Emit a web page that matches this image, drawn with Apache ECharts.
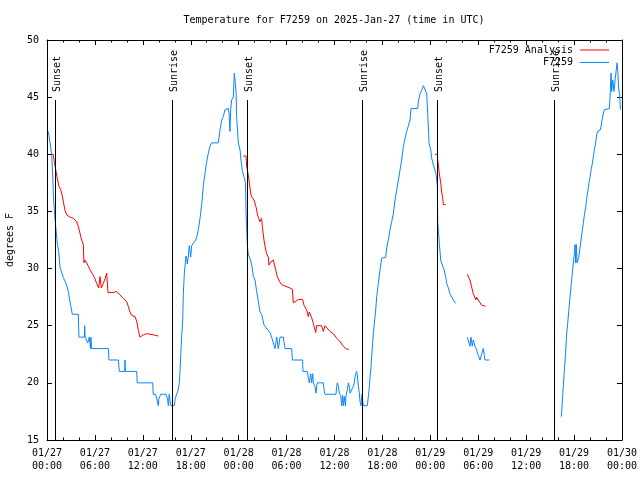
<!DOCTYPE html>
<html>
<head>
<meta charset="utf-8">
<script src="https://cdn.jsdelivr.net/npm/echarts@6/dist/echarts.min.js"></script>
<style>
html,body{margin:0;padding:0;background:#fff;}
#chart{width:640px;height:480px;}
</style>
</head>
<body>
<div id="chart"></div>
<script>
// ---- data (hours since 2025-01-27 00:00 UTC) ----
const tickDates = ['01/27','01/27','01/27','01/27','01/28','01/28','01/28','01/28','01/29','01/29','01/29','01/29','01/30'];
const tickTimes = ['00:00','06:00','12:00','18:00','00:00','06:00','12:00','18:00','00:00','06:00','12:00','18:00','00:00'];

const eventHours = [0.96, 15.61, 25.0, 39.49, 48.88, 63.53];
const eventNames = ['Sunset','Sunrise','Sunset','Sunrise','Sunset','Sunrise'];

const obsHours = [
0.17,0.32,0.38,0.52,0.58,0.66,0.72,0.80,0.88,0.96,1.13,1.29,1.46,1.63,1.84,2.05,2.38,2.67,2.96,3.17,3.92,4.0,4.67,4.72,4.78,5.0,5.1,5.3,5.45,5.5,5.59,7.68,7.76,8.93,9.06,9.72,9.77,9.81,11.23,11.3,13.24,13.3,13.6,13.75,13.94,14.0,14.24,14.9,15.1,15.19,15.3,15.4,15.5,15.94,16.05,16.24,16.4,16.57,16.65,16.74,16.86,16.99,17.07,17.2,17.36,17.4,17.49,17.57,17.7,17.82,17.99,18.11,18.32,18.53,18.74,18.95,19.16,19.37,19.58,19.78,19.99,20.2,20.41,20.62,21.45,21.66,21.87,22.08,22.29,22.5,22.71,22.79,22.91,23.0,23.12,23.33,23.46,23.5,23.58,23.67,23.75,23.83,23.96,24.17,24.29,24.46,24.67,24.85,24.92,25.0,25.09,25.21,25.5,25.67,25.84,26.05,26.25,26.5,26.67,26.88,27.17,27.42,27.92,28.13,28.34,28.55,28.76,28.97,29.18,29.59,29.8,30.64,30.72,32.01,32.05,32.6,32.72,32.85,33.02,33.14,33.27,33.35,33.56,33.69,33.77,33.85,34.6,34.69,34.81,36.19,36.27,36.36,36.48,36.61,36.78,36.9,37.02,37.11,37.23,37.36,37.44,37.61,37.73,37.86,37.94,38.15,38.36,38.48,38.61,38.77,38.86,38.98,39.11,39.19,39.32,39.44,39.53,39.61,40.11,40.24,40.37,40.44,40.57,40.65,40.78,40.86,40.99,41.16,41.28,41.49,41.7,41.91,42.12,42.41,42.53,42.74,42.95,43.16,43.37,43.58,43.79,44.0,44.2,44.41,44.62,44.83,45.04,45.25,45.46,45.58,46.42,46.5,46.71,46.92,47.13,47.38,47.55,47.67,47.84,48.05,48.17,48.38,48.71,48.88,48.93,49.0,49.13,49.3,49.55,49.72,49.92,50.05,50.26,50.46,50.67,50.88,51.17,
51.9,
52.63,52.88,52.96,53.09,53.25,53.38,53.59,53.8,54.0,54.22,54.42,54.63,54.76,54.84,55.38,
60.0,
64.41,64.53,64.66,64.78,64.95,65.07,65.2,65.36,65.49,65.61,65.74,65.91,66.03,66.12,66.2,66.28,66.37,66.45,66.58,66.74,66.87,67.04,67.16,67.29,67.46,67.58,67.71,67.87,68.0,68.12,68.29,68.41,68.54,68.71,68.83,68.96,69.25,69.37,69.5,69.67,69.79,69.92,70.42,70.5,70.63,70.71,70.84,71.0,71.13,71.25,71.38,71.46,71.59,71.71,71.8
];
const obsTemps = [
42,42,41,41,40,40,38,36.5,35.5,34.7,33.4,32.2,31.5,30.1,30,29.2,28.7,28,26.8,26,26,24,24,25,24,24,23.5,24,23,24,23,23,22,22,21,21,22,21,21,20,20,19,19,18.6,18,18.6,19,19,18.6,18,19,19,18,18,18.6,19,19.3,20,21,22.3,24,25.4,27.8,29.6,30.8,31.1,30.9,30.4,31.1,32,31,32,32.2,32.4,32.7,33.4,34.4,35.6,37.3,38.3,39.35,40.1,40.7,41,41,42.1,43,43.3,43.9,44,44,43.6,42,43.9,44.75,45,47.1,47,46.2,45.5,43.3,42.4,41,40.4,39.5,38.6,38,37.5,35,33.5,32,31.2,30.75,30.2,29.3,29,28,27,26.2,26,25.06,25,24.4,24,23.5,23,24,23,24,24,23,23,22,22,21,21,20.4,20,20.8,20,20.8,20,19.7,19.1,19.7,20,20,19.4,19,19,19.7,20,19.7,19.1,18.9,18,18.9,18,18.8,18,18.9,19.4,20,19.7,19.1,19.1,19.7,20,20.7,21,20.7,19.7,19.1,18.4,18,19,18.4,18,18,18.8,19.7,20.5,21.3,22.3,23.5,24.3,25.2,26.4,27.5,28.7,29.9,30.9,31,31,31.8,32.5,33.4,34.1,34.8,36,36.9,37.75,38.6,39.5,40.67,41.4,42,42.1,43,44,44,44.6,45.3,45.6,46,46,45.3,43.6,40.96,40.4,39.65,39.06,38.3,37.2,34,33.4,32.2,30.75,30.2,29.9,29.3,28.7,28.3,27.8,27.5,27.25,26.96,
null,
24,24,23.2,24,23.2,23.75,23.2,22.9,22.4,22,22,23,22.4,22,22,
null,
17.04,18.5,19.7,21.1,22.7,24.3,25.2,26.5,27.5,28.4,29.3,30.5,31.3,32.1,30.5,32.1,30.5,30.5,31,31.8,32.5,33.4,34,34.7,35.4,36.15,36.7,37.5,38,38.6,39.2,39.8,40.4,41,41.7,42,42.1,42.4,43,43.6,43.9,44,44,45,47.1,45.5,46.5,45.5,46.5,47.2,48,47.4,45.6,45.3,43.9
];

const anaHours = [
0.50,0.79,0.92,1.13,1.29,1.5,1.71,1.84,2.05,2.25,2.46,2.88,3.3,3.71,3.92,4.13,4.34,4.55,4.63,4.76,4.97,5.18,5.38,5.8,6.01,6.22,6.47,6.64,6.8,7.05,7.26,7.47,7.64,8.31,8.72,9.14,9.56,9.98,10.18,10.39,10.6,11.02,11.23,11.44,11.64,12.06,12.48,13.31,13.94,
19.0,
24.58,24.92,25.0,25.13,25.34,25.5,25.63,25.92,26.17,26.34,26.5,26.67,26.88,26.96,27.17,27.34,27.5,27.71,27.8,28.05,28.34,28.55,28.63,28.84,29.09,29.38,29.68,30.43,30.72,30.85,31.06,31.47,31.68,32.01,32.18,32.51,32.72,32.85,33.14,33.35,33.64,33.77,34.39,34.6,34.81,35.44,35.85,36.27,36.69,37.11,37.53,37.82,
43.0,
48.59,48.88,48.93,49.0,49.13,49.3,49.42,49.55,49.63,49.92,
51.0,
52.63,52.84,52.96,53.17,53.38,53.59,53.71,53.8,54.0,54.22,54.42,54.63,54.92
];
const anaTemps = [
40,40,39.35,38.5,37.9,37.2,36.9,36.6,35.85,35.1,34.7,34.5,34.4,34.1,33.7,33.1,32.5,32.1,30.5,30.75,30.5,30.2,29.9,29.4,29.1,28.7,28.3,29.3,28.3,28.7,29.1,29.6,27.9,27.9,28.0,27.7,27.4,27.1,26.7,26.2,25.9,25.8,25.4,24.6,24.0,24.2,24.3,24.2,24.1,
null,
39.85,39.85,38.9,38.5,37.5,36.6,36.3,36.0,35.4,34.8,34.4,34.1,34.4,33.7,32.5,31.8,31.3,31.0,30.3,30.6,30.75,30.9,29.9,29.3,28.9,28.6,28.5,28.3,28.2,27.0,27.1,27.3,27.4,27.3,26.8,26.4,25.8,26.2,25.7,25.2,24.4,25.0,25.0,24.5,25.0,24.5,24.3,23.9,23.6,23.2,22.95,22.95,
null,
40,40,39.5,39.06,38.3,37.5,36.7,36.15,35.6,35.6,
null,
29.5,29.5,29.0,28.4,27.8,27.7,27.25,27.5,27.25,27.1,26.8,26.7,26.7
];

// ---- chart ----
const FONT = 'DejaVu Sans Mono';
const zip = (a, b) => a.map((v, i) => [v, b[i]]);
const obsData = zip(obsHours, obsTemps);
const anaData = zip(anaHours, anaTemps);
const eventData = eventHours.map((h, i) => [h, i]);

const chart = echarts.init(document.getElementById('chart'), null, {renderer: 'canvas'});

const tickCommon = {
  axisLine: {show: true, onZero: false, lineStyle: {color: '#000', width: 1}},
  axisTick: {show: true, inside: true, length: 5, lineStyle: {color: '#000', width: 1}},
  splitLine: {show: false}
};

chart.setOption({
  animation: false,
  backgroundColor: '#fff',
  title: {
    text: 'Temperature for F7259 on 2025-Jan-27 (time in UTC)',
    left: 334, top: 15, padding: 0, textAlign: 'center',
    textStyle: {fontFamily: FONT, fontSize: 10, fontWeight: 'normal', color: '#000'}
  },
  legend: {
    orient: 'vertical', align: 'right', right: 31, top: 44, padding: 0,
    icon: 'rect', itemWidth: 29, itemHeight: 1, itemGap: 0.5,
    textStyle: {fontFamily: FONT, fontSize: 10, color: '#000', lineHeight: 12, padding: [0, 2, 0, 0]},
    data: ['F7259 Analysis', 'F7259']
  },
  grid: {left: 47, right: 18, top: 40, bottom: 40, show: false, containLabel: false, outerBoundsMode: 'none'},
  xAxis: [
    Object.assign({
      type: 'value', min: 0, max: 72, interval: 6, position: 'bottom',
      minorTick: {show: true, splitNumber: 3, length: 2.5, lineStyle: {color: '#000', width: 1}},
      minorSplitLine: {show: false},
      axisLabel: {
        show: true, fontFamily: FONT, fontSize: 10, color: '#000', lineHeight: 13, margin: 7,
        showMinLabel: true, showMaxLabel: true, hideOverlap: false,
        formatter: v => { const i = Math.round(v / 6); return tickDates[i] + '\n' + tickTimes[i]; }
      }
    }, tickCommon),
    Object.assign({
      type: 'value', min: 0, max: 72, interval: 6, position: 'top',
      minorTick: {show: true, splitNumber: 3, length: 2.5, lineStyle: {color: '#000', width: 1}},
      minorSplitLine: {show: false},
      axisLabel: {show: false}
    }, tickCommon)
  ],
  yAxis: [
    Object.assign({
      type: 'value', min: 15, max: 50, interval: 5, position: 'left',
      name: 'degrees F', nameLocation: 'middle', nameGap: 32, nameRotate: 90,
      nameTextStyle: {fontFamily: FONT, fontSize: 10, color: '#000'},
      axisLabel: {show: true, fontFamily: FONT, fontSize: 10, color: '#000', margin: 8, showMinLabel: true, showMaxLabel: true}
    }, tickCommon),
    Object.assign({
      type: 'value', min: 15, max: 50, interval: 5, position: 'right',
      axisLabel: {show: false}
    }, tickCommon)
  ],
  series: [
    {
      name: 'F7259 Analysis', type: 'line', data: anaData, xAxisIndex: 0, yAxisIndex: 0,
      showSymbol: false, symbol: 'none', connectNulls: false,
      lineStyle: {color: '#ff0000', width: 1}, itemStyle: {color: '#ff0000'}, z: 2
    },
    {
      name: 'F7259', type: 'line', data: obsData, xAxisIndex: 0, yAxisIndex: 0,
      showSymbol: false, symbol: 'none', connectNulls: false,
      lineStyle: {color: '#0a84ff', width: 1}, itemStyle: {color: '#0a84ff'}, z: 3
    },
    {
      name: 'sun', type: 'custom', data: eventData, xAxisIndex: 0, yAxisIndex: 0, z: 4,
      silent: true,
      renderItem: function (params, api) {
        const cs = params.coordSys;
        const p = api.coord([api.value(0), 15]);
        const x = Math.round(p[0]) + 0.5;
        const lineTop = cs.y + cs.height * 0.15;
        const labelY = cs.y + cs.height * 0.13;
        return {
          type: 'group',
          children: [
            {type: 'line', shape: {x1: x, y1: lineTop, x2: x, y2: cs.y + cs.height},
             style: {stroke: '#000', lineWidth: 1}},
            {type: 'text', x: x + 1.5, y: labelY, rotation: Math.PI / 2,
             style: {text: eventNames[params.dataIndex], x: 0, y: 0, align: 'left', verticalAlign: 'middle',
                     fontFamily: FONT, fontSize: 10, fill: '#000'}}
          ]
        };
      }
    }
  ]
});
</script>
</body>
</html>
